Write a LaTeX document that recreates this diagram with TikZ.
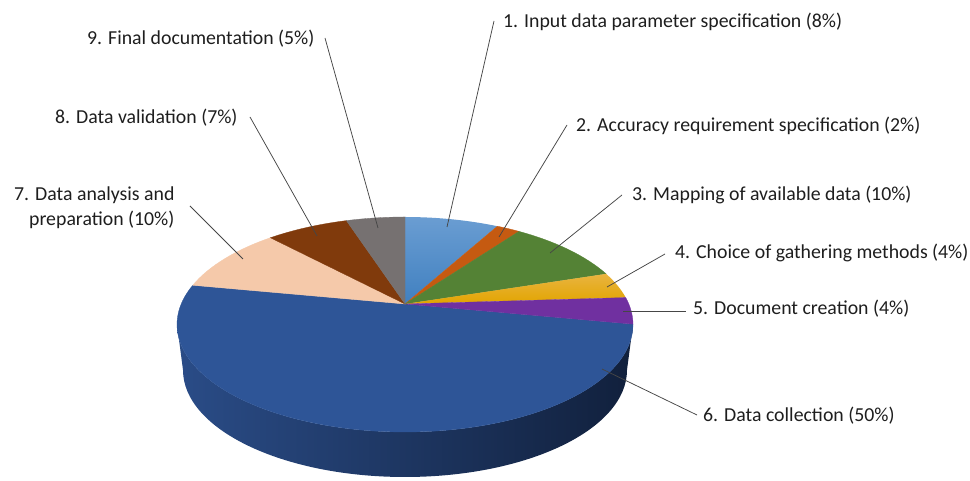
\documentclass[tikz,border=0pt]{standalone}
\usepackage{fontspec}
\setmainfont{Carlito}
\definecolor{cBlueLt}{RGB}{106,157,210}
\definecolor{cBlueLb}{RGB}{64,128,192}
\definecolor{cOrange}{RGB}{197,90,17}
\definecolor{cGreen}{RGB}{84,130,53}
\definecolor{cGoldT}{RGB}{233,180,64}
\definecolor{cGoldB}{RGB}{226,165,0}
\definecolor{cPurple}{RGB}{112,48,160}
\definecolor{cBlue}{RGB}{46,85,151}
\definecolor{cPeach}{RGB}{245,201,170}
\definecolor{cBrown}{RGB}{128,58,12}
\definecolor{cGray}{RGB}{118,113,113}
\definecolor{sideL}{RGB}{42,76,135}
\definecolor{sideM}{RGB}{30,53,100}
\definecolor{sideR}{RGB}{17,32,60}
\definecolor{txt}{RGB}{30,30,30}
\definecolor{lead}{RGB}{70,70,70}
\newcommand\rimpt[1]{({405+228*cos(#1)},{156.5+107.5*sin(#1)})}
\newcommand\pieslice[2]{(A) -- \rimpt{#1} arc[start angle=#1, end angle=#2, x radius=228, y radius=107.5] -- cycle}
\begin{document}
\begin{tikzpicture}[x=1pt,y=1pt,
  lbl/.style={inner sep=0pt, font=\fontsize{19.8pt}{25pt}\selectfont, text=txt},
  leader/.style={draw=lead, line width=0.75pt},
  flat/.style={fill=#1, draw=#1, line width=0.3pt}]
\useasboundingbox (0,0) rectangle (970,481);
\fill[white] (0,0) rectangle (970,481);
\coordinate (A) at (405,177);
% side of the cylinder
\shade[left color=sideL, middle color=sideM, right color=sideR]
  (177,156.5) arc[start angle=180, end angle=360, x radius=228, y radius=107.5]
  -- (627,111) arc[start angle=0, end angle=-180, x radius=222, y radius=107] -- cycle;
% top slices
\fill[flat=cBlue] \pieslice{0.2}{-201.4};
\shade[top color=cBlueLt, bottom color=cBlueLb] \pieslice{90}{66.1};
\fill[flat=cOrange] \pieslice{66.1}{60};
\fill[flat=cGreen] \pieslice{60}{28.1};
\shade[top color=cGoldT, bottom color=cGoldB] \pieslice{28.1}{14.5};
\fill[flat=cPurple] \pieslice{14.5}{0.2};
\fill[flat=cPeach] \pieslice{158.6}{126.2};
\fill[flat=cBrown] \pieslice{126.2}{104.9};
\fill[flat=cGray] \pieslice{104.9}{90};
% labels
\node[lbl, anchor=base west] (l1) at (503,453) {1. Input data parameter specification (8\%)};
\node[lbl, anchor=base west] (l2) at (576,349) {2. Accuracy requirement specification (2\%)};
\node[lbl, anchor=base west] (l3) at (632,280) {3. Mapping of available data (10\%)};
\node[lbl, anchor=base west] (l4) at (675,222) {4. Choice of gathering methods (4\%)};
\node[lbl, anchor=base west] (l5) at (693,166) {5. Document creation (4\%)};
\node[lbl, anchor=base west] (l6) at (703,59) {6. Data collection (50\%)};
\node[lbl, align=left, anchor=west] (l7) at (14,273.5) {7. Data analysis and\\\hspace*{15pt}preparation (10\%)};
\node[lbl, anchor=base west] (l8) at (55,357) {8. Data validation (7\%)};
\node[lbl, anchor=base west] (l9) at (87,436) {9. Final documentation (5\%)};
% leader anchor points
\coordinate (p1) at (447,254); \coordinate (e1) at (494,460);
\coordinate (p2) at (499,244); \coordinate (e2) at (567,356);
\coordinate (p3) at (550,228); \coordinate (e3) at (622,286);
\coordinate (p4) at (607,194); \coordinate (e4) at (665,227);
\coordinate (p5) at (623,170); \coordinate (e5) at (686,170);
\coordinate (p6) at (602,112); \coordinate (e6) at (697,66);
\coordinate (p7) at (243,222); \coordinate (e7) at (190,275);
\coordinate (p8) at (317,245); \coordinate (e8) at (250,364);
\coordinate (p9) at (378,253); \coordinate (e9) at (325,443);
\foreach \i in {1,...,9} {\draw[leader] (p\i) -- (e\i);}
\end{tikzpicture}
\end{document}
